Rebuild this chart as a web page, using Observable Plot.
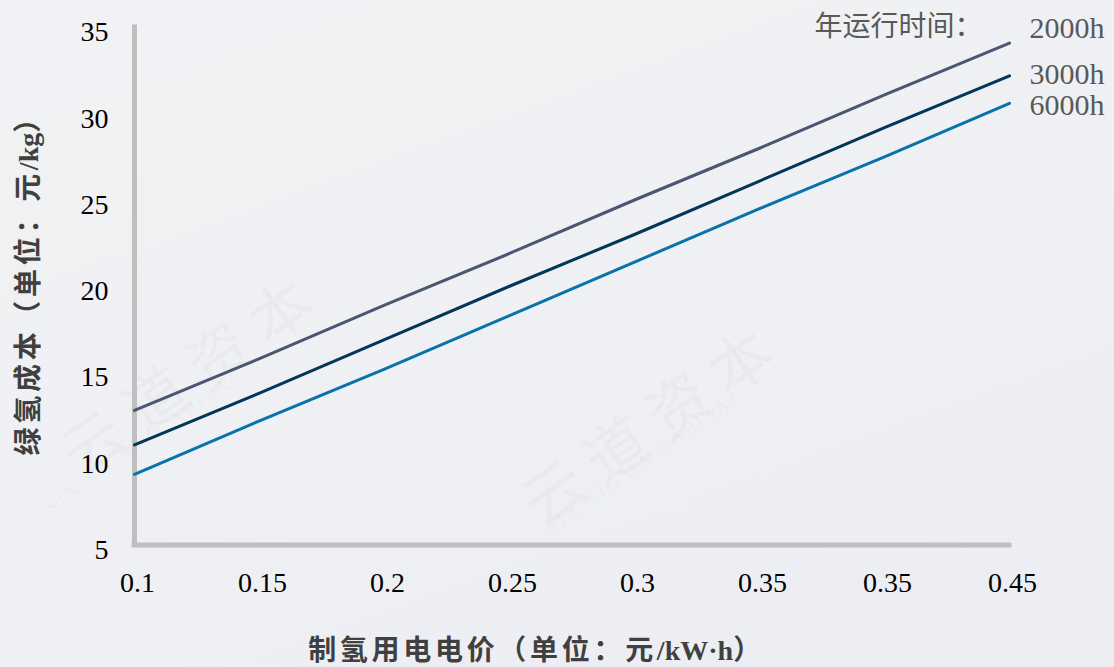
<!DOCTYPE html>
<html><head><meta charset="utf-8">
<script src="https://cdn.jsdelivr.net/npm/d3@7"></script>
<script src="https://cdn.jsdelivr.net/npm/@observablehq/plot@0.6"></script>
<style>
html,body{margin:0;padding:0;}
body{width:1114px;height:667px;overflow:hidden;background:linear-gradient(160deg,#f1f2f4 0%,#eff0f3 55%,#ebedf3 100%);}
#wrap{position:relative;width:1114px;height:667px;}
#wrap svg{position:absolute;left:0;top:0;}
.wm{position:absolute;font-family:"Noto Sans CJK SC",sans-serif;color:rgba(150,155,170,0.06);white-space:nowrap;transform-origin:left top;}
.wm.cn{font-size:62px;letter-spacing:14px;}
.wm.en{font-family:"Liberation Serif",serif;font-size:20px;letter-spacing:3px;}
</style></head><body><div id="wrap">
<div class="wm cn" style="left:40px;top:420px;transform:rotate(-35deg)">云道资本</div>
<div class="wm en" style="left:40px;top:500px;transform:rotate(-35deg)">SIX SIGMA CAPITAL</div>
<div class="wm cn" style="left:500px;top:470px;transform:rotate(-35deg)">云道资本</div>
<div class="wm en" style="left:540px;top:520px;transform:rotate(-35deg)">SIX SIGMA CAPITAL</div>
</div>
<script>
const xLabels = ["0.1","0.15","0.2","0.25","0.3","0.35","0.35","0.45"];
const seriesNames = ["2000h","3000h","6000h"];
const cost2000 = [12.8,15.8,18.9,21.9,25.0,28.0,31.1,34.1];
const cost3000 = [10.8,13.8,16.9,20.0,23.0,26.1,29.2,32.2];
const cost6000 = [9.1,12.2,15.2,18.3,21.4,24.5,27.5,30.6];
const yTicks = [5,10,15,20,25,30,35];
const seriesColors = ["#4a5672","#00375a","#0a72aa"];
const legendTitle = "年运行时间：";
const yTitle = "绿氢成本（单位：元/kg）";
const xTitle = "制氢用电电价（单位：元/kW·h）";

const rows = [];
[cost2000,cost3000,cost6000].forEach((arr,s)=>arr.forEach((v,i)=>rows.push({i, v, series: seriesNames[s]})));
const lastIdx = xLabels.length-1;
const endOf = name => rows.filter(d=>d.i===lastIdx && d.series===name);
const serif = '"Liberation Serif","Times New Roman",serif';
const titleFont = '"Liberation Serif","Noto Sans CJK SC",serif';
const legendOpts = {x:"i", y:"v", text:"series", textAnchor:"start", lineAnchor:"middle", dx:20, fontSize:30, fill:"#595959", fontFamily:serif};

const chart = Plot.plot({
  width:1114, height:667,
  marginTop:27, marginBottom:122.5, marginLeft:134, marginRight:105,
  style:{background:"transparent", fontFamily:serif, overflow:"visible"},
  x:{type:"point", domain:d3.range(xLabels.length), padding:0},
  y:{domain:[5,35]},
  color:{domain:seriesNames, range:seriesColors},
  marks:[
    Plot.axisX({tickSize:0, tickPadding:27, tickFormat:i=>xLabels[i], fontSize:28, fontFamily:serif, label:null, dx:3, fill:"#000"}),
    Plot.axisY({ticks:yTicks, tickSize:0, tickPadding:26, fontSize:28, fontFamily:serif, label:null, dy:5, fill:"#000"}),
    Plot.ruleX([0], {stroke:"#bfbfbf", strokeWidth:5, strokeLinecap:"square"}),
    Plot.ruleY([5], {stroke:"#bfbfbf", strokeWidth:5, strokeLinecap:"square"}),
    Plot.line(rows, {x:"i", y:"v", z:"series", stroke:"series", strokeWidth:3}),
    Plot.text(endOf("2000h"), {...legendOpts, dy:-14.5}),
    Plot.text(endOf("3000h"), {...legendOpts, dy:-1}),
    Plot.text(endOf("6000h"), {...legendOpts, dy:2}),
    Plot.text([legendTitle], {frameAnchor:"top-right", textAnchor:"end", lineAnchor:"middle", dx:-27, dy:0, fontSize:28, fill:"#595959", fontFamily:'"Noto Sans CJK SC",sans-serif'}),
    Plot.text([yTitle], {frameAnchor:"left", rotate:-90, textAnchor:"middle", lineAnchor:"middle", dx:-105, dy:-8, fontSize:28, fontWeight:"bold", fill:"#404040", fontFamily:titleFont}),
    Plot.text([xTitle], {frameAnchor:"bottom", textAnchor:"middle", lineAnchor:"middle", dx:-35.5, dy:106.5, fontSize:28, fontWeight:"bold", fill:"#404040", fontFamily:titleFont})
  ]
});
// spread only the CJK characters of the axis titles, as in the reference
const cjk = /[\u3000-\u9fff\uff00-\uffef]/;
chart.querySelectorAll('text').forEach(t=>{
  const s = t.textContent;
  if (s !== yTitle && s !== xTitle) return;
  t.textContent = "";
  const runs = s.match(/[\u3000-\u9fff\uff00-\uffef]+|[^\u3000-\u9fff\uff00-\uffef]+/g);
  runs.forEach(r=>{
    const ts = document.createElementNS("http://www.w3.org/2000/svg","tspan");
    ts.textContent = r;
    ts.setAttribute("letter-spacing", cjk.test(r) ? "3.7" : "0");
    t.appendChild(ts);
  });
});
document.getElementById("wrap").appendChild(chart);
</script>
</body></html>
